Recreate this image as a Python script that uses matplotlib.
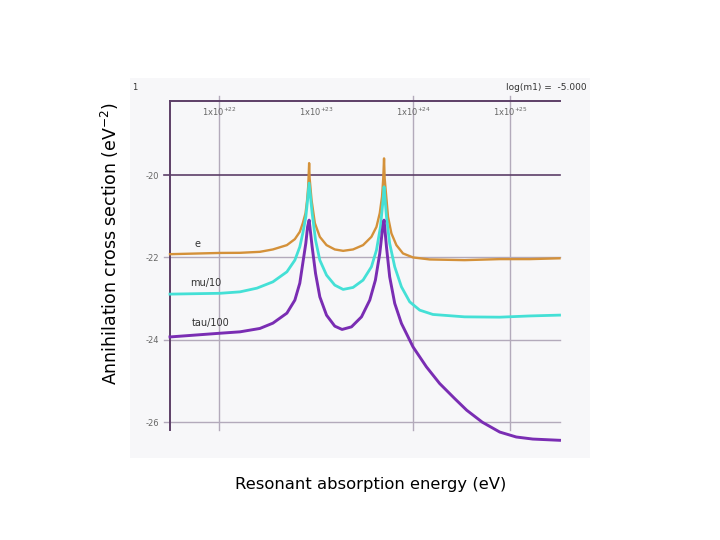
import matplotlib
matplotlib.use("Agg")
import matplotlib.pyplot as plt
import matplotlib.patches as mpatches
import numpy as np

# ---- data (log10 of energy in eV, log10 of cross section) ----
e_logE = [21.496, 22.01, 22.216, 22.421, 22.555, 22.699, 22.781, 22.832, 22.863, 22.891,
          22.907, 22.918, 22.922, 22.928, 22.933, 22.953, 22.987, 23.038, 23.107, 23.192,
          23.278, 23.380, 23.483, 23.569, 23.621, 23.655, 23.678, 23.691, 23.699, 23.705,
          23.716, 23.740, 23.775, 23.826, 23.894, 23.997, 24.169, 24.528, 24.89, 25.20, 25.505]
e_val = [-21.92, -21.89, -21.887, -21.863, -21.805, -21.700, -21.555, -21.377, -21.166, -20.923,
         -20.607, -20.284, -20.07, -19.709, -20.07, -20.607, -21.166, -21.499, -21.700, -21.805,
         -21.839, -21.805, -21.700, -21.499, -21.256, -20.923, -20.527, -20.07, -19.594, -20.07,
         -20.364, -21.013, -21.416, -21.700, -21.902, -21.999, -22.048, -22.065, -22.04, -22.04, -22.02]

mu_logE = [21.496, 22.01, 22.216, 22.391, 22.555, 22.699, 22.781, 22.832, 22.863, 22.894,
           22.912, 22.928, 22.959, 22.994, 23.038, 23.107, 23.192, 23.278, 23.380, 23.483,
           23.569, 23.621, 23.662, 23.689, 23.699, 23.724, 23.757, 23.809, 23.878, 23.963,
           24.066, 24.202, 24.528, 24.89, 25.20, 25.505]
mu_val = [-22.89, -22.87, -22.835, -22.745, -22.592, -22.349, -22.065, -21.742, -21.409, -21.013,
          -20.607, -20.194, -20.923, -21.579, -22.065, -22.429, -22.672, -22.776, -22.728, -22.550,
          -22.227, -21.822, -21.256, -20.607, -20.284, -21.013, -21.659, -22.227, -22.713, -23.077,
          -23.279, -23.384, -23.442, -23.45, -23.42, -23.40]

tau_logE = [21.496, 22.01, 22.216, 22.421, 22.555, 22.699, 22.781, 22.832, 22.863, 22.894,
            22.912, 22.928, 22.959, 22.994, 23.038, 23.107, 23.192, 23.267, 23.364, 23.467,
            23.552, 23.610, 23.655, 23.682, 23.699, 23.724, 23.757, 23.809, 23.878, 23.997,
            24.135, 24.271, 24.425, 24.55, 24.71, 24.89, 25.06, 25.23, 25.505]
tau_val = [-23.93, -23.84, -23.806, -23.724, -23.595, -23.352, -23.036, -22.623, -22.137, -21.652,
           -21.256, -21.093, -21.742, -22.388, -22.956, -23.401, -23.668, -23.748, -23.685, -23.442,
           -23.036, -22.550, -21.902, -21.336, -21.093, -21.742, -22.470, -23.116, -23.602, -24.171,
           -24.656, -25.060, -25.424, -25.71, -26.00, -26.24, -26.36, -26.41, -26.44]

series_names = ["e", "mu/10", "tau/100"]
x_ticks_exp = [22, 23, 24, 25]
x_tick_labels = [r"1x10$^{+22}$", r"1x10$^{+23}$", r"1x10$^{+24}$", r"1x10$^{+25}$"]
x_grid_exp = [22, 24, 25]
y_ticks = [-20, -22, -24, -26]
y_tick_labels = ["-20", "-22", "-24", "-26"]

# ---- figure ----
W, H = 720, 540
fig = plt.figure(figsize=(7.2, 5.4), dpi=100)
fig.patch.set_facecolor("white")

def fx(px):
    return px / W

def fy(py):
    return 1 - py / H

def pw(exps):
    return [10.0 ** float(v) for v in exps]

# panel background
fig.patches.append(mpatches.Rectangle((fx(130), fy(458)), 460 / W, 380 / H,
                                      transform=fig.transFigure, facecolor="#f7f7f9",
                                      edgecolor="none", zorder=-10))

ax = fig.add_axes([fx(170), fy(430), 390 / W, 329 / H])
ax.set_facecolor("none")
ax.set_xscale("log")
ax.set_xlim(10.0 ** 21.496, 10.0 ** 25.51)
ax.set_ylim(-26.19, -18.20)

axis_col = "#5d3f68"
grid_col = "#b3aabb"

for s in ["right", "bottom"]:
    ax.spines[s].set_visible(False)
for s in ["left", "top"]:
    ax.spines[s].set_color(axis_col)
    ax.spines[s].set_linewidth(1.4)

# vertical grid lines (with small tick above the top line)
for xv in pw(x_grid_exp):
    ax.axvline(xv, ymin=0, ymax=1 + 5 / 329, color=grid_col, lw=1.0,
               clip_on=False, zorder=1)
# horizontal grid lines (with small tick left of the axis)
for yv in y_ticks:
    col = axis_col if yv == -20 else grid_col
    ax.axhline(yv, xmin=-6 / 390, xmax=1, color=col, lw=1.2 if yv == -20 else 1.0,
               clip_on=False, zorder=1)

ax.xaxis.set_minor_locator(matplotlib.ticker.NullLocator())
ax.set_xticks(pw(x_ticks_exp))
ax.set_xticklabels(x_tick_labels)
ax.xaxis.set_minor_locator(matplotlib.ticker.NullLocator())
ax.xaxis.tick_top()
ax.tick_params(axis="x", which="both", length=0, pad=-12, labelsize=6, labelcolor="#666666")
ax.set_yticks(y_ticks)
ax.set_yticklabels(y_tick_labels)
ax.tick_params(axis="y", length=0, pad=8, labelsize=6, labelcolor="#666666")

# curves
ax.plot(pw(e_logE), e_val, color="#d4913a", lw=1.7, clip_on=False, zorder=3,
        solid_joinstyle="round")
ax.plot(pw(mu_logE), mu_val, color="#44e0d6", lw=2.0, clip_on=False, zorder=3,
        solid_joinstyle="round")
ax.plot(pw(tau_logE), tau_val, color="#7a2db3", lw=2.1, clip_on=False, zorder=3,
        solid_joinstyle="round")

# curve labels
lab_pos = [(10.0 ** 21.75, -21.67), (10.0 ** 21.70, -22.61), (10.0 ** 21.72, -23.60)]
for name, (xx, yy) in zip(series_names, lab_pos):
    ax.text(xx, yy, name, fontsize=7, color="#333333", ha="left", va="center")

# corner texts
fig.text(fx(135), fy(87), "1", fontsize=6, color="#333333", ha="center", va="center")
fig.text(fx(587), fy(87), "log(m1) =  -5.000", fontsize=6.5, color="#333333",
         ha="right", va="center")

# axis titles
fig.text(fx(371), fy(484), "Resonant absorption energy (eV)", fontsize=11.8,
         ha="center", va="center", color="black")
fig.text(fx(110), fy(243), "Annihilation cross section (eV$^{-2}$)", fontsize=12.5,
         ha="center", va="center", rotation=90, color="black")

fig.savefig("out.png", dpi=100)
